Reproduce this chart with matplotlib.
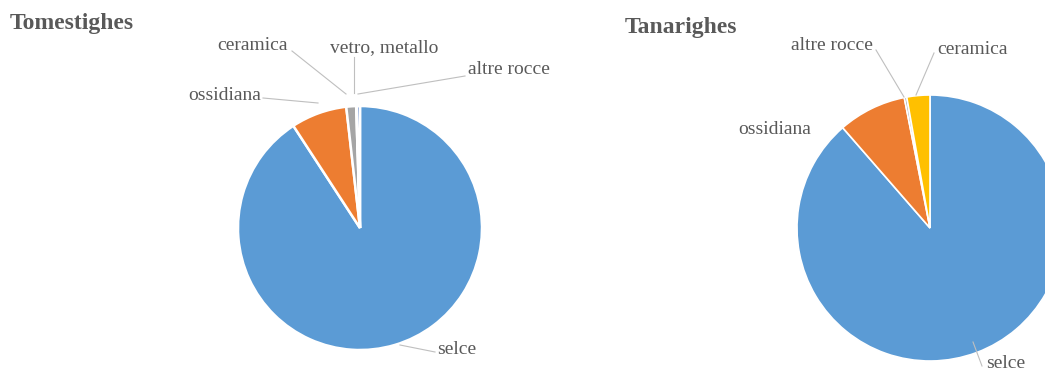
import matplotlib.pyplot as plt

# dati
tome_labels = ['selce', 'ossidiana', 'ceramica', 'vetro, metallo', 'altre rocce']
tome_values = [90.8, 7.4, 1.3, 0.1, 0.4]
tome_colors = ['#5b9bd5', '#ed7d31', '#a5a5a5', '#ffc000', '#4472c4']

tana_labels = ['selce', 'ossidiana', 'altre rocce', 'ceramica']
tana_values = [88.6, 8.3, 0.3, 2.8]
tana_colors = ['#5b9bd5', '#ed7d31', '#a5a5a5', '#ffc000']

W, H = 1045, 376
text_color = '#595959'
line_color = '#bfbfbf'

plt.rcParams['font.family'] = ['Liberation Serif', 'DejaVu Serif']

fig = plt.figure(figsize=(W / 100, H / 100), dpi=100)
ax = fig.add_axes([0, 0, 1, 1])
ax.axis('off')


def py(y):
    # coordinate pixel dall'alto
    return H - y


# torta sinistra
ax.pie(tome_values, colors=tome_colors, center=(360, py(228)), radius=122,
       startangle=90, counterclock=False, explode=[0.01, 0.03, 0.01, 0.01, 0.01],
       wedgeprops=dict(edgecolor='white', linewidth=1.8))

# torta destra (tagliata dal bordo)
ax.pie(tana_values, colors=tana_colors, center=(930, py(228)), radius=133,
       startangle=90, counterclock=False,
       wedgeprops=dict(edgecolor='white', linewidth=1.2))
ax.set_xlim(0, W)
ax.set_ylim(0, H)

# titoli
ax.text(10, py(23), 'Tomestighes', fontsize=17, fontweight='bold', color=text_color,
        ha='left', va='center')
ax.text(625, py(28), 'Tanarighes', fontsize=17, fontweight='bold', color=text_color,
        ha='left', va='center')

# etichette con linee guida: (testo, posizione testo, punti linea)
labels = [
    ('ceramica', (253, 45), [(292, 51), (346, 94)]),
    ('vetro, metallo', (384, 48), [(354, 57), (354, 93)]),
    ('altre rocce', (509, 70), [(465, 76), (358, 94)]),
    ('ossidiana', (225, 95), [(263, 98), (318, 103)]),
    ('selce', (457, 350), [(435, 352), (400, 345)]),
    ('altre rocce', (832, 45), [(876, 50), (904, 97)]),
    ('ceramica', (972, 50), [(934, 53), (916, 95)]),
    ('ossidiana', (775, 130), []),
    ('selce', (1006, 364), [(982, 366), (973, 342)]),
]
for txt, (x, y), pts in labels:
    ax.text(x, py(y), txt, fontsize=14, color=text_color, ha='center', va='center')
    if pts:
        ax.plot([p[0] for p in pts], [py(p[1]) for p in pts], color=line_color,
                linewidth=0.8)

fig.savefig('out.png', dpi=100)
